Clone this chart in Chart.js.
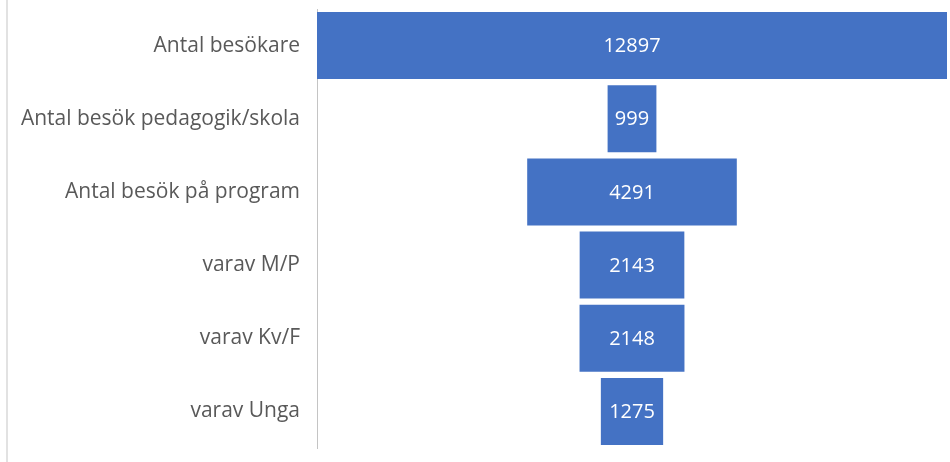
<!DOCTYPE html>
<html lang="sv">
<head>
    <meta charset="UTF-8">
    <title>Besök</title>
    <script src="https://cdn.jsdelivr.net/npm/chart.js"></script>
    <style>
        html, body { margin: 0; padding: 0; background: #fff; }
        #wrap { position: relative; width: 950px; height: 462px; }
    </style>
</head>
<body>
<div id="wrap"><canvas id="tratt"></canvas></div>
<script>
    // Kategorier och värden
    var kategorier = ['Antal besökare', 'Antal besök pedagogik/skola', 'Antal besök på program', 'varav M/P', 'varav Kv/F', 'varav Unga'];
    var varden = [12897, 999, 4291, 2143, 2148, 1275];

    var maxVarde = Math.max.apply(null, varden);
    // flytande staplar centrerade kring 0 => tratt
    var staplar = varden.map(function (v) { return [-v / 2, v / 2]; });

    // skriver värdet mitt i varje stapel
    var vardeEtiketter = {
        id: 'vardeEtiketter',
        afterDatasetsDraw: function (chart) {
            var ctx = chart.ctx;
            var meta = chart.getDatasetMeta(0);
            ctx.save();
            ctx.fillStyle = '#ffffff';
            ctx.font = '20px "Open Sans"';
            ctx.textAlign = 'center';
            ctx.textBaseline = 'middle';
            meta.data.forEach(function (bar, i) {
                var p = bar.getProps(['x', 'base', 'y'], true);
                ctx.fillText(String(varden[i]), (p.x + p.base) / 2, p.y + 1);
            });
            ctx.restore();
        }
    };

    // svag ram till vänster om diagrammet
    var ram = {
        id: 'ram',
        beforeDraw: function (chart) {
            var ctx = chart.ctx;
            ctx.save();
            ctx.strokeStyle = '#e2e2e2';
            ctx.lineWidth = 2;
            ctx.beginPath();
            ctx.moveTo(7, 0);
            ctx.lineTo(7, chart.height);
            ctx.stroke();
            ctx.restore();
        }
    };

    new Chart(document.getElementById('tratt'), {
        type: 'bar',
        data: {
            labels: kategorier,
            datasets: [{
                data: staplar,
                backgroundColor: '#4472C4',
                borderWidth: 0,
                borderSkipped: false,
                categoryPercentage: 0.915,
                barPercentage: 1
            }]
        },
        options: {
            indexAxis: 'y',
            responsive: true,
            maintainAspectRatio: false,
            animation: false,
            layout: { padding: { top: 9, bottom: 14, right: 3, left: 0 } },
            plugins: { legend: { display: false }, tooltip: { enabled: false } },
            scales: {
                x: { display: false, min: -maxVarde / 2, max: maxVarde / 2 },
                y: {
                    grid: { display: false, drawTicks: false },
                    border: { display: true, color: '#c4c4c4', dash: [3, 3] },
                    ticks: { color: '#595959', font: { family: 'Open Sans', size: 21 }, padding: 17 },
                    afterFit: function (scale) {
                        scale.width = 317;
                        scale.paddingTop = 0;
                        scale.paddingBottom = 0;
                    }
                }
            }
        },
        plugins: [vardeEtiketter, ram]
    });
</script>
</body>
</html>
